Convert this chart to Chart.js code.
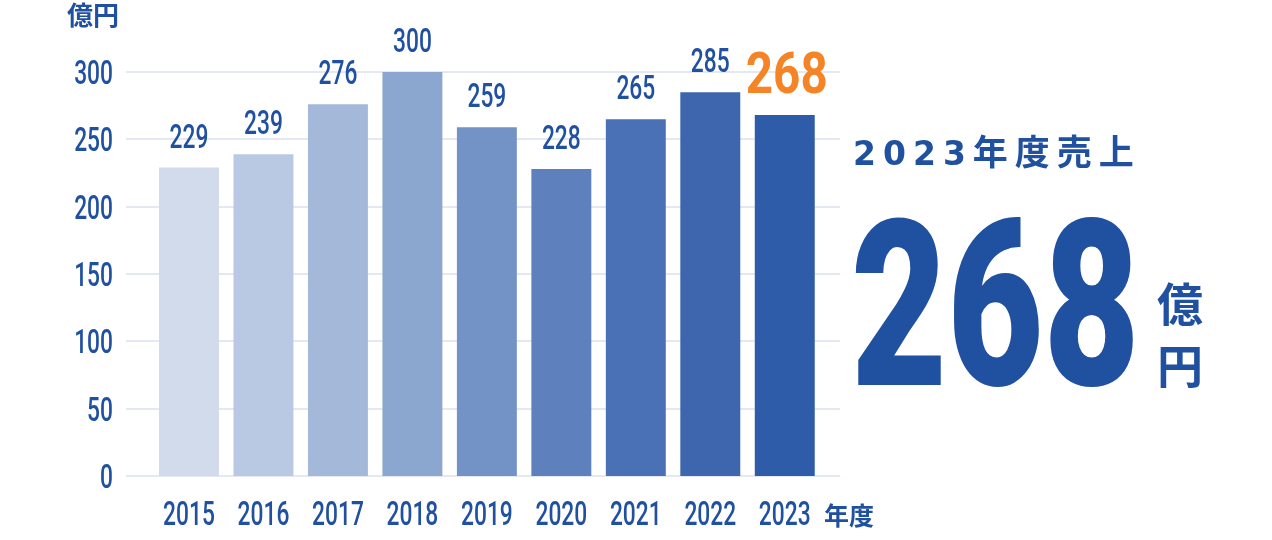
<!DOCTYPE html>
<html>
<head>
<meta charset="utf-8">
<script src="https://cdn.jsdelivr.net/npm/chart.js@4.4.1/dist/chart.umd.min.js"></script>
<style>
  body { margin: 0; background: #fff; }
  #wrap { position: relative; width: 1272px; height: 540px; overflow: hidden; }
  #sales { position: absolute; left: 0; top: 0; }
  .t { position: absolute; color: #2051a0; font-family: "Noto Sans CJK JP", sans-serif; font-weight: 700; white-space: nowrap; }
  #unit { left: 67px; top: 0px; font-size: 26px; line-height: 28px; }
  #fy { left: 824px; top: 500px; font-size: 25px; line-height: 28px; }
  #headline { left: 853px; top: 130px; font-size: 35px; line-height: 40px; font-weight: 700; }
  #headline .num { font-family: "DejaVu Sans", sans-serif; font-size: 33px; letter-spacing: 7px; }
  #headline .jp { letter-spacing: 7px; }
  #big { left: 851px; top: 190px; font-family: Roboto, sans-serif; font-weight: 900; font-size: 232px; line-height: 232px; transform: scaleX(0.716); transform-origin: left top; }
  #bigunit { left: 1157px; top: 270px; font-size: 46px; line-height: 62px; width: 50px; white-space: normal; }
</style>
</head>
<body>
<div id="wrap">
  <canvas id="sales" width="1272" height="540"></canvas>
  <div class="t" id="unit">億円</div>
  <div class="t" id="fy">年度</div>
  <div class="t" id="headline"><span class="num">2023</span><span class="jp">年度売上</span></div>
  <div class="t" id="big">268</div>
  <div class="t" id="bigunit">億<br>円</div>
</div>
<script>
// sales per fiscal year (億円)
const years = ["2015", "2016", "2017", "2018", "2019", "2020", "2021", "2022", "2023"];
const sales = [229, 239, 276, 300, 259, 228, 265, 285, 268];
const yTicks = [0, 50, 100, 150, 200, 250, 300];
const barColors = ["#d2dbeb", "#b9c9e3", "#a4b8da", "#8ba6cf", "#7393c6", "#5e80bd", "#4a71b5", "#3d66ae", "#2f5ca8"];

const BLUE = "#2051a0";
const ORANGE = "#f58426";

// draws condensed digits (the original uses a narrow display face)
function narrowText(ctx, s, px, py, size, weight, color, sx) {
    ctx.save();
    ctx.translate(px, py);
    ctx.scale(sx, 1);
    ctx.font = weight + " " + size + "px Roboto, sans-serif";
    ctx.fillStyle = color;
    ctx.textAlign = "center";
    ctx.textBaseline = "alphabetic";
    ctx.fillText(s, 0, 0);
    ctx.restore();
}

const labelPlugin = {
    id: "labelPlugin",
    beforeDatasetsDraw(chart) {
        //light grid lines, wider than the bars
        const { ctx } = chart;
        const y = chart.scales.y;
        ctx.save();
        ctx.strokeStyle = "#e3e8f3";
        ctx.lineWidth = 2;
        y.ticks.forEach((t) => {
            const py = Math.round(y.getPixelForValue(t.value));
            ctx.beginPath();
            ctx.moveTo(126, py);
            ctx.lineTo(840, py);
            ctx.stroke();
        });
        ctx.restore();
    },
    afterDatasetsDraw(chart) {
        const { ctx } = chart;
        const x = chart.scales.x;
        const y = chart.scales.y;

        //y tick labels
        y.ticks.forEach((t) => {
            const label = String(t.value);
            ctx.save();
            ctx.font = "500 34px Roboto, sans-serif";
            const w = ctx.measureText(label).width * 0.67;
            ctx.restore();
            narrowText(ctx, label, 113 - w / 2, y.getPixelForValue(t.value) + 12, 34, 500, BLUE, 0.67);
        });

        //x tick labels
        x.ticks.forEach((t, i) => {
            narrowText(ctx, x.getLabelForValue(t.value), x.getPixelForTick(i), 525, 34, 500, BLUE, 0.67);
        });

        //values above the bars
        const meta = chart.getDatasetMeta(0);
        meta.data.forEach((bar, i) => {
            const last = i === sales.length - 1;
            if (last) {
                narrowText(ctx, String(sales[i]), bar.x + 2, bar.y - 22, 58, 700, ORANGE, 0.82);
            } else {
                narrowText(ctx, String(sales[i]), bar.x, bar.y - 20, 34, 500, BLUE, 0.67);
            }
        });
    },
};

new Chart(document.getElementById("sales"), {
    type: "bar",
    data: {
        labels: years,
        datasets: [
            {
                label: "売上",
                data: sales,
                backgroundColor: barColors,
                borderWidth: 0,
                categoryPercentage: 1,
                barPercentage: 0.805,
            },
        ],
    },
    options: {
        responsive: false,
        animation: false,
        devicePixelRatio: 1,
        layout: { padding: { left: 0, right: 450, top: 72, bottom: 0 } },
        plugins: { legend: { display: false }, tooltip: { enabled: false } },
        scales: {
            x: {
                grid: { display: false },
                border: { display: false },
                ticks: { display: false },
                afterFit(s) { s.height = 64; },
            },
            y: {
                min: 0,
                max: 300,
                grid: { display: false },
                border: { display: false },
                ticks: { display: false },
                afterBuildTicks(s) { s.ticks = yTicks.map((v) => ({ value: v })); },
                afterFit(s) { s.width = 151.75; },
            },
        },
    },
    plugins: [labelPlugin],
});
</script>
</body>
</html>
